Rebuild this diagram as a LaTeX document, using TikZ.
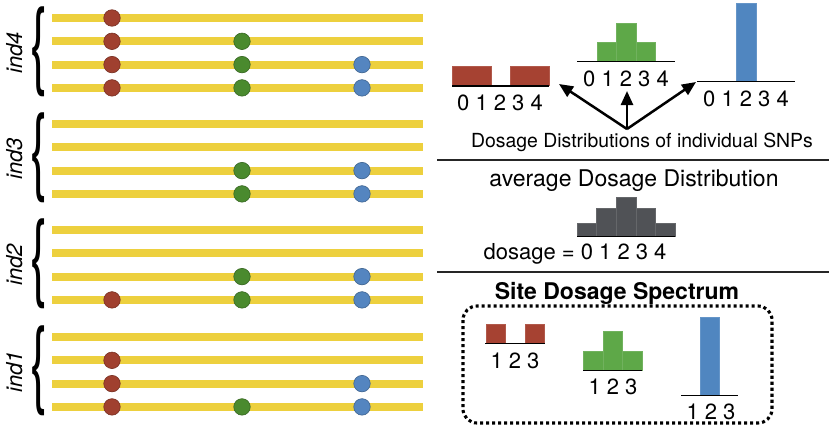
\documentclass[tikz,border=0pt]{standalone}
\usepackage{fontspec}
\usepackage{graphicx}
\setmainfont{TeX Gyre Heros}
\usetikzlibrary{arrows.meta}
\definecolor{chrom}{RGB}{237,208,62}
\definecolor{snpR}{RGB}{160,64,47}
\definecolor{snpG}{RGB}{74,138,46}
\definecolor{snpB}{RGB}{84,133,192}
\definecolor{histR}{RGB}{166,66,50}
\definecolor{histG}{RGB}{94,168,72}
\definecolor{histB}{RGB}{80,134,192}
\definecolor{histK}{RGB}{80,82,86}
\begin{document}
\begin{tikzpicture}[x=1pt,y=-1pt,
  chromline/.style={line width=8pt, chrom},
  snp/.style={circle, inner sep=0pt, minimum size=16.5pt, fill=#1, draw=#1!75!black, line width=0.6pt},
  hbar/.style={fill=#1, draw=#1!88!white, line width=0.5pt},
  axisline/.style={line width=1.5pt, black},
  seprule/.style={line width=1.4pt, black!85},
  digits/.style={inner sep=0pt, anchor=base, font=\fontsize{22}{24}\selectfont},
  indlbl/.style={inner sep=0pt, anchor=base, rotate=90, font=\fontsize{22}{24}\selectfont\itshape},
  bracenode/.style={inner sep=0pt},
  bigarrow/.style={line width=2.5pt, -{Triangle[length=14pt,width=12pt]}},
  dotbox/.style={line width=3.1pt, dash pattern=on 3.1pt off 2.9pt, rounded corners=14pt}
]
\useasboundingbox (0,0) rectangle (829,428);
\fill[white] (0,0) rectangle (829,428);

% chromosomes
\foreach \g/\y in {4/18,3/124,2/230,1/337}{
  \foreach \r in {0,...,3}{
    \draw[chromline] (52,{\y+\r*23.3}) -- (423,{\y+\r*23.3});
  }
  \node[bracenode] (br\g) at (39,{\y+34}) {\resizebox*{17pt}{90pt}{\fontsize{20}{20}\selectfont\{}};
  \node[indlbl] (lab\g) at (22,{\y+35}) {ind\g};
}

% SNPs  (x: red 112, green 242, blue 362)
% ind4
\node[snp=snpR] (a1) at (112,18) {};
\node[snp=snpR] (a2) at (112,41.3) {};
\node[snp=snpG] (a3) at (242,41.3) {};
\node[snp=snpR] (a4) at (112,64.6) {};
\node[snp=snpG] (a5) at (242,64.6) {};
\node[snp=snpB] (a6) at (362,64.6) {};
\node[snp=snpR] (a7) at (112,87.9) {};
\node[snp=snpG] (a8) at (242,87.9) {};
\node[snp=snpB] (a9) at (362,87.9) {};
% ind3
\node[snp=snpG] (b1) at (242,170.6) {};
\node[snp=snpB] (b2) at (362,170.6) {};
\node[snp=snpG] (b3) at (242,193.9) {};
\node[snp=snpB] (b4) at (362,193.9) {};
% ind2
\node[snp=snpG] (c1) at (242,276.6) {};
\node[snp=snpB] (c2) at (362,276.6) {};
\node[snp=snpR] (c3) at (112,299.9) {};
\node[snp=snpG] (c4) at (242,299.9) {};
\node[snp=snpB] (c5) at (362,299.9) {};
% ind1
\node[snp=snpR] (d1) at (112,360.3) {};
\node[snp=snpR] (d2) at (112,383.6) {};
\node[snp=snpB] (d3) at (362,383.6) {};
\node[snp=snpR] (d4) at (112,406.9) {};
\node[snp=snpG] (d5) at (242,406.9) {};
\node[snp=snpB] (d6) at (362,406.9) {};

% individual SNP distributions
% red
\draw[hbar=histR] (452,66) rectangle (490.8,85.5);
\draw[hbar=histR] (510.2,66) rectangle (549,85.5);
\draw[axisline] (452,86) -- (549,86);
\node[digits] (rlab) at (500,110) {0 1 2 3 4};
% green
\draw[hbar=histG] (597,42) rectangle (616.5,61);
\draw[hbar=histG] (616.5,23) rectangle (636,61);
\draw[hbar=histG] (636,42) rectangle (655.5,61);
\draw[axisline] (577,61.5) -- (675,61.5);
\node[digits] (glab) at (626,86) {0 1 2 3 4};
% blue
\draw[hbar=histB] (736.5,3) rectangle (756,81);
\draw[axisline] (697,81.5) -- (795,81.5);
\node[digits] (blab) at (746,106) {0 1 2 3 4};

% arrows
\coordinate (src) at (627,129);
\coordinate (tipR) at (559,84);
\coordinate (tipG) at (627,91);
\coordinate (tipB) at (696,82);
\draw[bigarrow] (src) -- (tipR);
\draw[bigarrow] (src) -- (tipG);
\draw[bigarrow] (src) -- (tipB);
\node[inner sep=0pt, anchor=base, font=\fontsize{19.4}{21}\selectfont] (indiv) at (642,147) {Dosage Distributions of individual SNPs};

\draw[seprule] (437,160) -- (829,160);

% average distribution
\node[inner sep=0pt, anchor=base, font=\fontsize{23}{25}\selectfont] (avg) at (634,186) {average Dosage Distribution};
\draw[hbar=histK] (577,223) rectangle (596.6,236);
\draw[hbar=histK] (596.6,208) rectangle (616.2,236);
\draw[hbar=histK] (616.2,197) rectangle (635.8,236);
\draw[hbar=histK] (635.8,208) rectangle (655.4,236);
\draw[hbar=histK] (655.4,223) rectangle (675,236);
\draw[axisline] (577,236.5) -- (675,236.5);
\node[digits] (dos) at (575,259) {dosage = 0 1 2 3 4};

\draw[seprule] (437,272) -- (829,272);

% site dosage spectrum
\node[inner sep=0pt, anchor=base, font=\fontsize{23}{25}\selectfont\bfseries] (sds) at (617,299) {Site Dosage Spectrum};
\draw[dotbox] (463,306) rectangle (772,423);
% red
\draw[hbar=histR] (486,324) rectangle (505.5,343);
\draw[hbar=histR] (525,324) rectangle (544.5,343);
\draw[axisline] (485,343.5) -- (545,343.5);
\node[digits] (srl) at (515,368) {1 2 3};
% green
\draw[hbar=histG] (583,351) rectangle (603,370);
\draw[hbar=histG] (603,331) rectangle (622.5,370);
\draw[hbar=histG] (622.5,351) rectangle (642,370);
\draw[axisline] (583,370.5) -- (642,370.5);
\node[digits] (sgl) at (613,394) {1 2 3};
% blue
\draw[hbar=histB] (700,317) rectangle (719.5,395);
\draw[axisline] (681,395.5) -- (738,395.5);
\node[digits] (sbl) at (711,419) {1 2 3};
\end{tikzpicture}
\end{document}
